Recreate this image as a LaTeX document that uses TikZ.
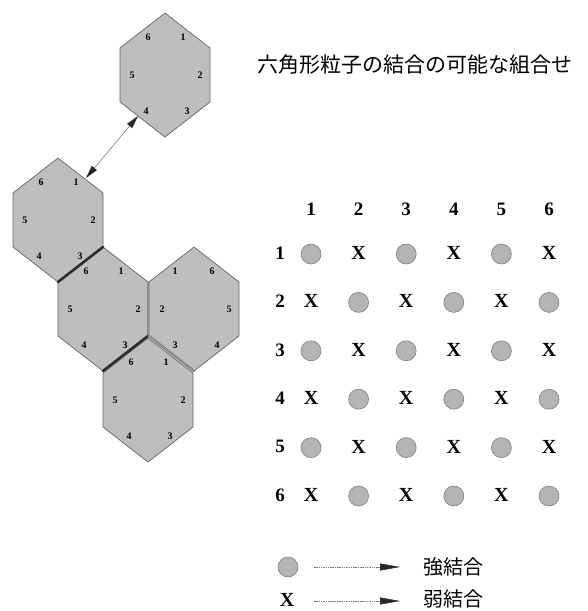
\documentclass[tikz,border=0pt]{standalone}
\usepackage{fontspec}
\setmainfont{Liberation Serif}
\newfontfamily\cjk{Noto Sans CJK JP}
\usetikzlibrary{arrows.meta}
\definecolor{hexgray}{HTML}{BEBEBE}
\definecolor{hexedge}{HTML}{666666}
\definecolor{dotgray}{HTML}{B4B4B4}
\definecolor{dotedge}{HTML}{808080}
\definecolor{bonddark}{HTML}{2E2E2E}
\definecolor{bondgray}{HTML}{8C8C8C}
\begin{document}
\begin{tikzpicture}[x=1pt,y=-1pt,
  hexstyle/.style={fill=hexgray,draw=hexedge,line width=0.7pt,line join=round},
  hexnum/.style={font=\fontsize{10}{10}\selectfont\bfseries,inner sep=0pt},
  bigtxt/.style={font=\fontsize{19}{19}\selectfont\bfseries,inner sep=0pt},
  xmark/.style={font=\fontsize{20}{20}\selectfont\bfseries,inner sep=0pt},
  dotmark/.style={circle,fill=dotgray,draw=dotedge,line width=0.6pt,minimum size=20pt,inner sep=0pt},
  strongbond/.style={draw=bonddark,line width=2.6pt,line cap=round},
  graybond/.style={draw=bondgray,line width=2.6pt,line cap=round},
  cjktxt/.style={font=\cjk\fontsize{20}{20}\selectfont,inner sep=0pt},
  legarrow/.style={draw=gray,line width=0.5pt,dash pattern=on 1.5pt off 0.8pt,-{Triangle[length=20pt,width=7pt,color=black!85]}},
  linkarrow/.style={draw=gray,line width=0.6pt,{Triangle[length=13pt,width=6.5pt,color=black!85]}-{Triangle[length=13pt,width=6.5pt,color=black!85]}}
]
\useasboundingbox (0,0) rectangle (587,611);

% hexagons
\foreach \n/\cx/\cy in {hT/165/75, hA/58/220, hB/103/309, hC/194/309, hD/148/400} {
  \coordinate (\n) at (\cx,\cy);
  \draw[hexstyle] (\n) ++(0,-62) coordinate (\n-t) -- ++(45,35) coordinate (\n-ur)
     -- ++(0,54) coordinate (\n-lr) -- ++(-45,35) coordinate (\n-b)
     -- ++(-45,-35) coordinate (\n-ll) -- ++(0,-54) coordinate (\n-ul) -- cycle;
}

% bond edges
\draw[strongbond] (hA-lr) -- (hA-b);
\draw[graybond] (hB-ur) -- (hB-lr);
\draw[strongbond] (hB-lr) -- (hB-b);
\draw[graybond] (hC-ll) -- (hC-b);

% hex labels (normal orientation)
\foreach \n in {hT, hA, hB, hD} {
  \node[hexnum] (\n-n1) at ([shift={(18,-38)}]\n) {1};
  \node[hexnum] (\n-n2) at ([shift={(35,0)}]\n) {2};
  \node[hexnum] (\n-n3) at ([shift={(22,36)}]\n) {3};
  \node[hexnum] (\n-n4) at ([shift={(-19,36)}]\n) {4};
  \node[hexnum] (\n-n5) at ([shift={(-33,0)}]\n) {5};
  \node[hexnum] (\n-n6) at ([shift={(-17,-38)}]\n) {6};
}
% mirrored hexagon
\node[hexnum] (hC-n1) at ([shift={(-19,-38)}]hC) {1};
\node[hexnum] (hC-n6) at ([shift={(18,-38)}]hC) {6};
\node[hexnum] (hC-n2) at ([shift={(-32,0)}]hC) {2};
\node[hexnum] (hC-n5) at ([shift={(35,0)}]hC) {5};
\node[hexnum] (hC-n3) at ([shift={(-19,36)}]hC) {3};
\node[hexnum] (hC-n4) at ([shift={(23,36)}]hC) {4};

% link arrow
\coordinate (ta) at (138,116);
\coordinate (ab) at (86,178);
\draw[linkarrow] (ta) -- (ab);

% title
\node[font=\cjk\fontsize{21}{21}\selectfont,inner sep=0pt,anchor=west] (title) at (257,65) {六角形粒子の結合の可能な組合せ};

% table headers
\foreach \j in {1,...,6} {
  \node[bigtxt] (col\j) at ({311+47.6*(\j-1)},209) {\j};
  \node[bigtxt] (row\j) at (280,{253+48.4*(\j-1)}) {\j};
}
% table entries
\foreach \i in {1,...,6} {
  \foreach \j in {1,...,6} {
    \pgfmathtruncatemacro{\parity}{mod(\i+\j,2)}
    \ifnum\parity=0
      \node[dotmark] (g\i-\j) at ({311+47.6*(\j-1)},{254+48.4*(\i-1)}) {};
    \else
      \node[xmark] (g\i-\j) at ({311+47.6*(\j-1)},{253+48.4*(\i-1)}) {X};
    \fi
  }
}

% legend
\node[dotmark] (lc) at (288,567) {};
\node[xmark] (lx) at (287,600) {X};
\node[cjktxt,anchor=west] (ls) at (423,567) {強結合};
\node[cjktxt,anchor=west] (lw) at (423,599) {弱結合};
\coordinate (a1s) at (314,567);
\coordinate (a1e) at (400,567);
\coordinate (a2s) at (314,601);
\coordinate (a2e) at (400,601);
\draw[legarrow] (a1s) -- (a1e);
\draw[legarrow] (a2s) -- (a2e);
\end{tikzpicture}
\end{document}
